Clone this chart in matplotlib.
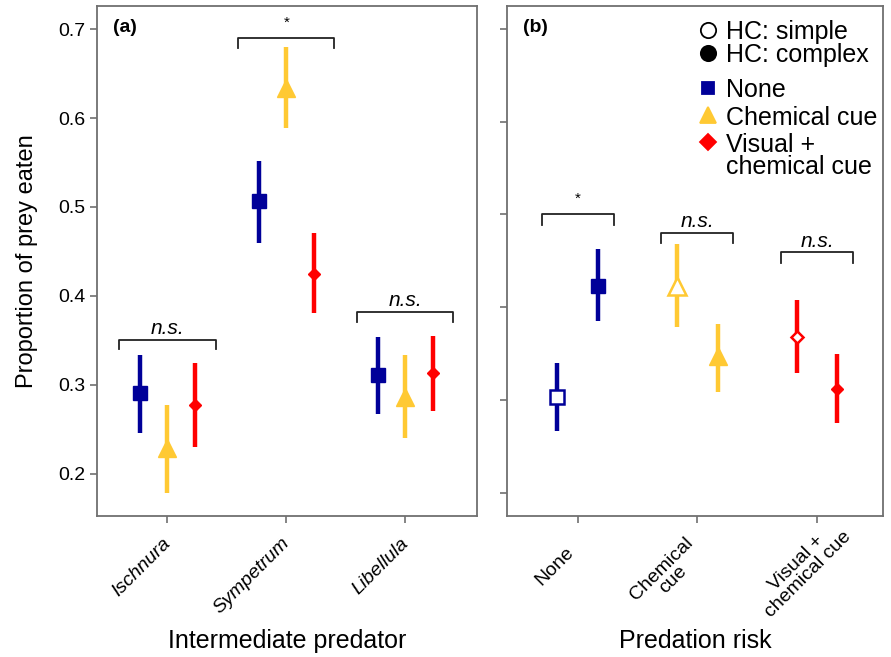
import matplotlib
matplotlib.use("Agg")
import matplotlib.pyplot as plt
import numpy as np

plt.rcParams['font.family'] = ['Liberation Sans', 'DejaVu Sans']

# panel (a): intermediate predator x predation risk
predators = ['Ischnura', 'Sympetrum', 'Libellula']
a_mean = {'None': [0.291, 0.507, 0.311],
          'Chemical cue': [0.229, 0.634, 0.287],
          'Visual': [0.278, 0.425, 0.313]}
a_lo = {'None': [0.246, 0.460, 0.267],
        'Chemical cue': [0.179, 0.589, 0.240],
        'Visual': [0.230, 0.381, 0.271]}
a_hi = {'None': [0.334, 0.552, 0.354],
        'Chemical cue': [0.278, 0.680, 0.334],
        'Visual': [0.325, 0.471, 0.355]}
a_brackets = [0.351, 0.690, 0.382]
a_signif = ['n.s.', '*', 'n.s.']

# panel (b): predation risk x habitat complexity (simple, complex)
b_labels = ['None', 'Chemical\ncue', 'Visual +\nchemical cue']
b_simple = [0.303, 0.423, 0.368]
b_simple_lo = [0.266, 0.379, 0.329]
b_simple_hi = [0.340, 0.468, 0.408]
b_complex = [0.423, 0.347, 0.312]
b_complex_lo = [0.385, 0.309, 0.275]
b_complex_hi = [0.463, 0.382, 0.349]
b_brackets = [0.500, 0.480, 0.459]
b_signif = ['*', 'n.s.', 'n.s.']

keys = ['None', 'Chemical cue', 'Visual']
colors = ['#000099', '#FFC933', '#FF0000']
markers = ['s', '^', 'D']
msizes = [10, 13, 6]
spine_col = '#707070'

fig = plt.figure(figsize=(8.91, 6.57), dpi=100)
ax1 = fig.add_axes([0.109, 0.215, 0.426, 0.776])
ax2 = fig.add_axes([0.569, 0.215, 0.422, 0.776])

x = np.arange(1, 4)
offs = [-0.23, 0.0, 0.23]
for k, c, m, ms, o in zip(keys, colors, markers, msizes, offs):
    mean = np.array(a_mean[k])
    err = [mean - np.array(a_lo[k]), np.array(a_hi[k]) - mean]
    ax1.errorbar(x + o, mean, yerr=err, fmt=m, color=c, ms=ms,
                 elinewidth=3.2, capsize=0, mec=c)


def bracket(ax, xc, yb, half, s):
    ax.plot([xc - half, xc - half, xc + half, xc + half],
            [yb - 0.011, yb, yb, yb - 0.011], color='#222222', lw=1.3)
    if s == '*':
        ax.text(xc, yb + 0.009, s, ha='center', va='bottom', fontsize=11)
    else:
        ax.text(xc, yb + 0.002, s, ha='center', va='bottom', fontsize=15,
                style='italic')


def tick_texts(ax, labels, shifts, **kw):
    # rotated category labels under the ticks, nudged in pixels
    ax.set_xticklabels([])
    for xi, lab, (dx, dy) in zip(x, labels, shifts):
        ax.annotate(lab, xy=(xi, 0), xycoords=('data', 'axes fraction'),
                    xytext=(dx, dy), textcoords='offset pixels', rotation=45,
                    rotation_mode='anchor', ha='right', va='top',
                    annotation_clip=False, **kw)


for xi, yb, s in zip(x, a_brackets, a_signif):
    bracket(ax1, xi, yb, 0.405, s)

ax1.set_xlim(0.41, 3.6)
ax1.set_ylim(0.153, 0.726)
ax1.set_yticks([0.2, 0.3, 0.4, 0.5, 0.6, 0.7])
ax1.set_xticks(x)
tick_texts(ax1, predators, [(-5, -19)] * 3, style='italic', fontsize=14)
ax1.tick_params(axis='y', labelsize=14)
ax1.set_ylabel('Proportion of prey eaten', fontsize=17, va='center')
ax1.yaxis.set_label_coords(-0.184, 0.5)
ax1.set_xlabel('Intermediate predator', fontsize=18, va='center')
ax1.xaxis.set_label_coords(0.5, -0.245)
ax1.text(0.042, 0.957, '(a)', transform=ax1.transAxes, fontsize=14,
         fontweight='bold', va='center')

offb = [-0.17, 0.17]
for i, (c, m, ms) in enumerate(zip(colors, markers, msizes)):
    ax2.errorbar([x[i] + offb[0]], [b_simple[i]],
                 yerr=[[b_simple[i] - b_simple_lo[i]], [b_simple_hi[i] - b_simple[i]]],
                 fmt=m, color=c, mfc='white', mec=c, mew=1.8, ms=ms,
                 elinewidth=3.2, capsize=0)
    ax2.errorbar([x[i] + offb[1]], [b_complex[i]],
                 yerr=[[b_complex[i] - b_complex_lo[i]], [b_complex_hi[i] - b_complex[i]]],
                 fmt=m, color=c, mec=c, ms=ms, elinewidth=3.2, capsize=0)

for xi, yb, s in zip(x, b_brackets, b_signif):
    bracket(ax2, xi, yb, 0.30, s)

ax2.set_xlim(0.41, 3.55)
ax2.set_ylim(0.175, 0.725)
ax2.set_yticks([0.2, 0.3, 0.4, 0.5, 0.6, 0.7])
ax2.set_yticklabels([])
ax2.set_xticks(x)
tick_texts(ax2, b_labels, [(-12, -28), (-13, -18), (14, -1)], fontsize=14,
           multialignment='center', linespacing=0.95)
ax2.set_xlabel('Predation risk', fontsize=18, va='center')
ax2.xaxis.set_label_coords(0.5, -0.245)
ax2.text(0.042, 0.957, '(b)', transform=ax2.transAxes, fontsize=14,
         fontweight='bold', va='center')

# legend (drawn by hand to match the stacked layout)
leg_labels = ['HC: simple', 'HC: complex', 'None', 'Chemical cue', 'Visual +']
leg_markers = ['o', 'o', 's', '^', 'D']
leg_colors = ['black', 'black'] + colors
leg_fill = ['white', 'black'] + colors
leg_sizes = [11, 11, 9, 12, 8.5]
leg_y = [0.953, 0.908, 0.839, 0.786, 0.733]
for lab, m, c, f, s, yy in zip(leg_labels, leg_markers, leg_colors, leg_fill,
                               leg_sizes, leg_y):
    ax2.plot([0.535], [yy], marker=m, ls='', color=c, mfc=f, mec=c, mew=1.3,
             ms=s, transform=ax2.transAxes, clip_on=False)
    ax2.text(0.582, yy, lab, transform=ax2.transAxes, fontsize=18,
             va='center_baseline', ha='left')
ax2.text(0.582, 0.688, 'chemical cue', transform=ax2.transAxes, fontsize=18,
         va='center_baseline', ha='left')

for ax in (ax1, ax2):
    for sp in ax.spines.values():
        sp.set_color(spine_col)
        sp.set_linewidth(1.3)
    ax.tick_params(color=spine_col, length=5, width=1.2)

fig.savefig('out.png', dpi=100)
